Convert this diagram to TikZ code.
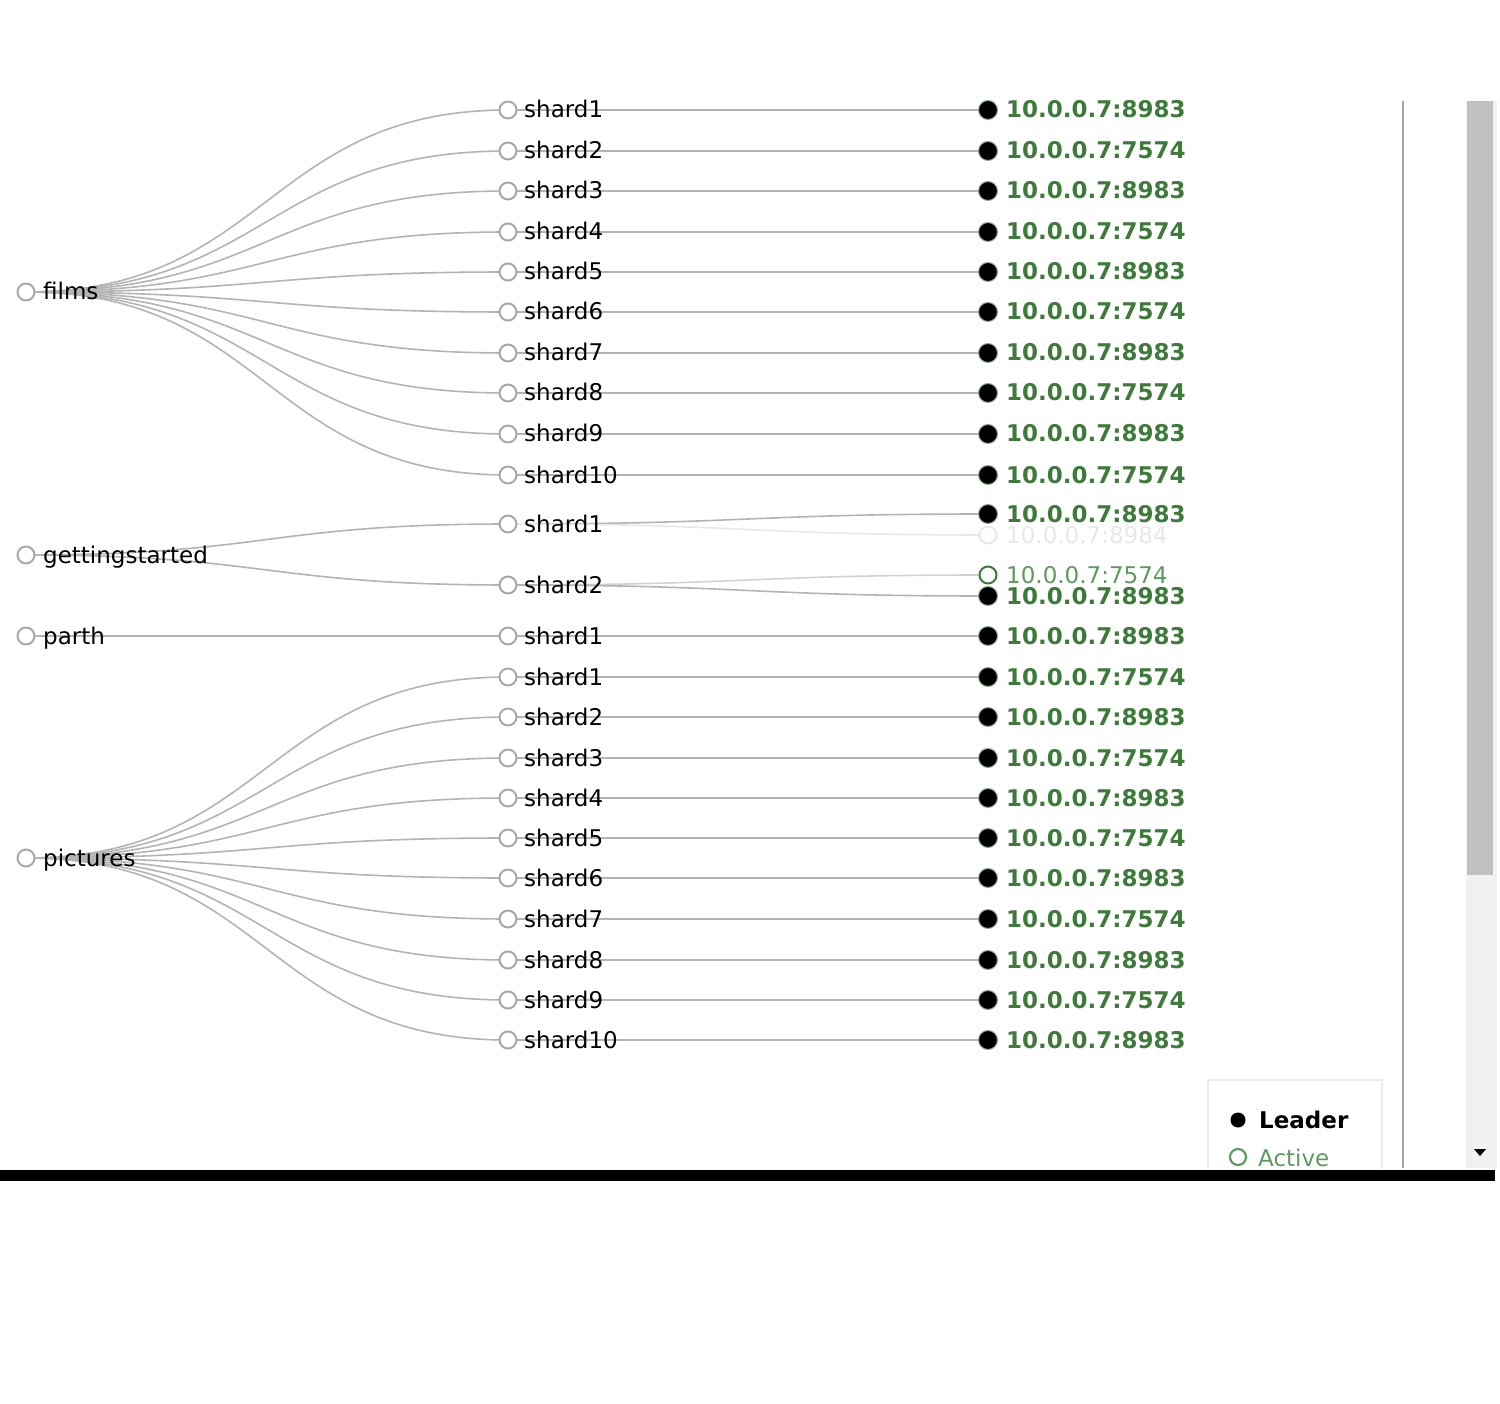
\documentclass[tikz,border=0pt]{standalone}
\usepackage{fontspec}
\setmainfont{DejaVu Sans}
\usetikzlibrary{backgrounds}
\definecolor{edge}{HTML}{B4B4B4}
\definecolor{ring}{HTML}{A8A8A8}
\definecolor{ipgreen}{HTML}{3E7B3A}
\definecolor{actgreen}{HTML}{5E9A5E}
\definecolor{faded}{HTML}{E8E8E8}
\definecolor{track}{HTML}{F1F1F1}
\definecolor{thumb}{HTML}{C1C1C1}
\begin{document}
\begin{tikzpicture}[x=1pt,y=-1pt,
  treenode/.style={circle,draw=ring,line width=2pt,fill=white,minimum size=17pt,inner sep=0pt},
  leadernode/.style={circle,draw=ipgreen!60,line width=1pt,fill=black,minimum size=19pt,inner sep=0pt},
  activenode/.style={circle,draw=ipgreen,line width=2pt,fill=white,minimum size=17pt,inner sep=0pt},
  fadednode/.style={circle,draw=faded,line width=2pt,fill=white,minimum size=17pt,inner sep=0pt},
  lbl/.style={anchor=base west,inner sep=0pt,font=\fontsize{23}{25}\selectfont,text=black},
  iplbl/.style={anchor=base west,inner sep=0pt,font=\fontsize{23}{25}\selectfont\bfseries,text=ipgreen},
  link/.style={draw=edge,line width=1.6pt}]
\useasboundingbox (0,0) rectangle (1500,1404);
\begin{pgfonlayer}{background}
\fill[white] (0,0) rectangle (1500,1404);
\end{pgfonlayer}

% roots
\node[treenode] (films) at (26,292) {};
\node[lbl] (filmsL) at (43,300) {films};
\node[treenode] (gs) at (26,555) {};
\node[lbl] (gsL) at (43,563) {gettingstarted};
\node[treenode] (parth) at (26,636) {};
\node[lbl] (parthL) at (43,644) {parth};
\node[treenode] (pics) at (26,858) {};
\node[lbl] (picsL) at (43,866) {pictures};

% films shards
\foreach \i/\y/\ip in {1/110/8983,2/151/7574,3/191/8983,4/232/7574,5/272/8983,6/312/7574,7/353/8983,8/393/7574,9/434/8983,10/475/7574}{
  \node[treenode] (fs\i) at (508,\y) {};
  \node[lbl] (fsL\i) at (524,\y+8) {shard\i};
  \node[leadernode] (fr\i) at (988,\y) {};
  \node[iplbl] (frL\i) at (1006,\y+8) {10.0.0.7:\ip};
}
% pictures shards
\foreach \i/\y/\ip in {1/677/7574,2/717/8983,3/758/7574,4/798/8983,5/838/7574,6/878/8983,7/919/7574,8/960/8983,9/1000/7574,10/1040/8983}{
  \node[treenode] (ps\i) at (508,\y) {};
  \node[lbl] (psL\i) at (524,\y+8) {shard\i};
  \node[leadernode] (pr\i) at (988,\y) {};
  \node[iplbl] (prL\i) at (1006,\y+8) {10.0.0.7:\ip};
}
% gettingstarted shards
\node[treenode] (gs1) at (508,524) {};
\node[lbl] (gsL1) at (524,532) {shard1};
\node[treenode] (gs2) at (508,585) {};
\node[lbl] (gsL2) at (524,593) {shard2};
\node[leadernode] (gr1) at (988,514) {};
\node[iplbl] (grL1) at (1006,522) {10.0.0.7:8983};
\node[fadednode] (gr2) at (988,535) {};
\node[lbl,text=faded] (grL2) at (1006,543) {10.0.0.7:8984};
\node[activenode] (gr3) at (988,575) {};
\node[lbl,text=actgreen] (grL3) at (1006,583) {10.0.0.7:7574};
\node[leadernode] (gr4) at (988,596) {};
\node[iplbl] (grL4) at (1006,604) {10.0.0.7:8983};
% parth shard
\node[treenode] (pa1) at (508,636) {};
\node[lbl] (paL1) at (524,644) {shard1};
\node[leadernode] (par1) at (988,636) {};
\node[iplbl] (parL1) at (1006,644) {10.0.0.7:8983};

\begin{pgfonlayer}{background}
\foreach \i in {1,...,10}{
  \draw[link] (films.center) .. controls +(241,0) and +(-241,0) .. (fs\i.center);
  \draw[link] (fs\i.center) -- (fr\i.center);
  \draw[link] (pics.center) .. controls +(241,0) and +(-241,0) .. (ps\i.center);
  \draw[link] (ps\i.center) -- (pr\i.center);
}
\draw[link] (gs.center) .. controls +(241,0) and +(-241,0) .. (gs1.center);
\draw[link] (gs.center) .. controls +(241,0) and +(-241,0) .. (gs2.center);
\draw[link] (gs1.center) .. controls +(240,0) and +(-240,0) .. (gr1.center);
\draw[link,draw=faded] (gs1.center) .. controls +(240,0) and +(-240,0) .. (gr2.center);
\draw[link,draw=edge!60] (gs2.center) .. controls +(240,0) and +(-240,0) .. (gr3.center);
\draw[link] (gs2.center) .. controls +(240,0) and +(-240,0) .. (gr4.center);
\draw[link] (parth.center) -- (pa1.center);
\draw[link] (pa1.center) -- (par1.center);
\end{pgfonlayer}

% legend
\begin{scope}
\clip (1190,1060) rectangle (1400,1168);
\draw[draw=black!8,line width=1.5pt] (1208,1080) rectangle (1382,1190);
\node[circle,fill=black,minimum size=15pt,inner sep=0pt] (legL) at (1238,1120) {};
\node[lbl,font=\fontsize{23}{25}\selectfont\bfseries] (legLT) at (1259,1128) {Leader};
\node[circle,draw=actgreen,line width=2.2pt,minimum size=16pt,inner sep=0pt] (legA) at (1238,1157) {};
\node[lbl,text=actgreen] (legAT) at (1258,1166) {Active};
\end{scope}

% right panel line and scrollbar
\draw[draw=black!35,line width=2pt] (1403,101) -- (1403,1168);
\fill[track] (1466,101) rectangle (1497,1168);
\fill[thumb] (1467,101) rectangle (1493,875);
\fill[black] (1474,1149) -- (1486,1149) -- (1480,1156) -- cycle;

% bottom bar
\fill[black] (0,1170) rectangle (1495,1181);
\end{tikzpicture}
\end{document}
